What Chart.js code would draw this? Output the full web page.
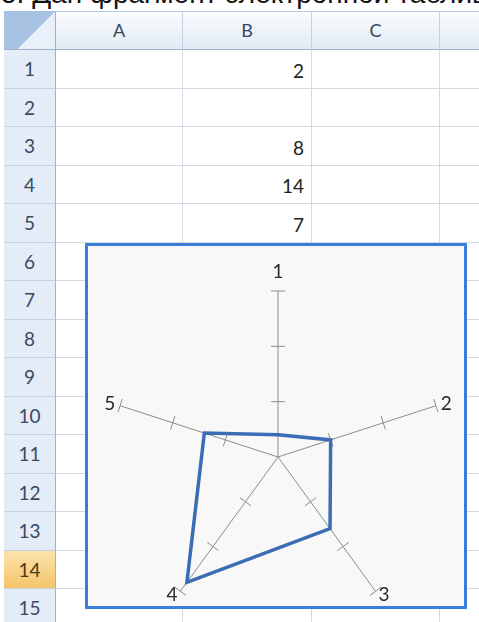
<!DOCTYPE html>
<html>
<head>
<meta charset="utf-8">
<script src="https://cdn.jsdelivr.net/npm/chart.js@4"></script>
<style>
body { margin: 0; width: 479px; height: 622px; overflow: hidden; background: #fff; position: relative; font-family: Lato, "Noto Sans", sans-serif; }
#title { position: absolute; left: 1px; top: -20px; font: 28px/1 "Liberation Sans", Arial, sans-serif; white-space: nowrap; color: #111; }
.c { position: absolute; box-sizing: border-box; }
.colhd { background: linear-gradient(#fafcfe, #e2eaf5); border-top: 1px solid #b7c9df; border-right: 1px solid #c3d1e3; border-bottom: 1px solid #9db3cc; color: #34465f; font-size: 18px; text-align: center; line-height: 37px; }
.rowhd { background: #e4ecf7; border-right: 1px solid #9db3cc; border-bottom: 1px solid #c3d1e3; color: #3a4a62; font-size: 19px; text-align: center; }
.rowhd.active { background: linear-gradient(#fbe3ad, #f5c46a); color: #4a3a1a; }
.cell { border-right: 1px solid #d3dae6; border-bottom: 1px solid #d3dae6; text-align: right; padding-right: 7px; font-size: 19px; color: #222; }
#corner { left: 4px; top: 11px; width: 52px; height: 39px; background: linear-gradient(135deg, #a8c2e4 58%, #e9f0f9 58%); border-right: 1px solid #9db3cc; border-bottom: 1px solid #9db3cc; }
#box { position: absolute; left: 85px; top: 243px; width: 382px; height: 366px; box-sizing: border-box; border: 3px solid #3b7ed8; background: #f8f8f8; overflow: hidden; }
#box canvas { position: absolute; left: 0; top: 0; }
</style>
</head>
<body>
<div id="title">5. Дан фрагмент электронной таблицы</div>
<div id="grid"></div>
<div id="box"><canvas id="radar" width="376" height="400"></canvas></div>
<script>
// spreadsheet contents
const columns = ['A', 'B', 'C', ''];
const cellValues = [2, null, 8, 14, 7];   // column B, rows 1..5
const rowCount = 15;
const activeRow = 14;

// chart data
const axisLabels = ['1', '2', '3', '4', '5'];
const seriesValues = [2, 5, 8, 14, 7];

const colEdges = [56, 183, 312, 440, 480];
const rowTop = r => 50 + (r - 1) * 38.5;

const grid = document.getElementById('grid');
function addCell(cls, x, y, w, h, text, extra) {
    const d = document.createElement('div');
    d.className = 'c ' + cls;
    d.style.left = x + 'px';
    d.style.top = y + 'px';
    d.style.width = w + 'px';
    d.style.height = h + 'px';
    if (extra) d.style.lineHeight = extra;
    if (text !== null && text !== undefined) d.textContent = text;
    grid.appendChild(d);
}
const corner = document.createElement('div');
corner.className = 'c';
corner.id = 'corner';
grid.appendChild(corner);

columns.forEach((name, i) => {
    addCell('colhd', colEdges[i], 11, colEdges[i + 1] - colEdges[i], 39, name);
});
for (let r = 1; r <= rowCount; r++) {
    const y = Math.round(rowTop(r));
    const h = Math.round(rowTop(r + 1)) - y;
    addCell('rowhd' + (r === activeRow ? ' active' : ''), 4, y, 52, h, r, (h - 1) + 'px');
    columns.forEach((name, i) => {
        const v = (i === 1 && r <= cellValues.length) ? cellValues[r - 1] : null;
        addCell('cell', colEdges[i], y, colEdges[i + 1] - colEdges[i], h, v, (h + 2) + 'px');
    });
}

// tick marks across each spoke, and the spoke labels
const spokeDecor = {
    id: 'spokeDecor',
    beforeDatasetsDraw(chart) {
        const r = chart.scales.r;
        const ctx = chart.ctx;
        ctx.save();
        ctx.strokeStyle = '#8c8c8c';
        ctx.lineWidth = 1;
        ctx.fillStyle = '#2a2a2a';
        ctx.font = '19px Lato, "Noto Sans", sans-serif';
        axisLabels.forEach((lab, i) => {
            const end = r.getPointPositionForValue(i, r.max);
            const dx = (end.x - r.xCenter) / r.drawingArea;
            const dy = (end.y - r.yCenter) / r.drawingArea;
            r.ticks.forEach(t => {
                if (t.value <= 0) return;
                const p = r.getPointPositionForValue(i, t.value);
                ctx.beginPath();
                ctx.moveTo(p.x - dy * 7, p.y + dx * 7);
                ctx.lineTo(p.x + dy * 7, p.y - dx * 7);
                ctx.stroke();
            });
            const top = Math.abs(dx) < 0.01;
            const q = r.getPointPosition(i, r.drawingArea + (top ? 19 : 5));
            ctx.textAlign = top ? 'center' : (dx > 0 ? 'left' : 'right');
            ctx.textBaseline = 'middle';
            ctx.fillText(lab, q.x, q.y);
        });
        ctx.restore();
    }
};

new Chart(document.getElementById('radar'), {
    type: 'radar',
    data: {
        labels: axisLabels,
        datasets: [{
            data: seriesValues,
            borderColor: '#3a6db4',
            borderWidth: 3.5,
            backgroundColor: 'rgba(0,0,0,0)',
            fill: false,
            pointRadius: 0,
            tension: 0
        }]
    },
    options: {
        responsive: false,
        animation: false,
        layout: { padding: { left: 24, top: 45, right: 20, bottom: 23 } },
        plugins: { legend: { display: false }, tooltip: { enabled: false } },
        scales: {
            r: {
                min: 0,
                max: 15,
                ticks: { stepSize: 5, display: false },
                grid: { display: false },
                angleLines: { color: '#8c8c8c', lineWidth: 1 },
                pointLabels: { display: false }
            }
        }
    },
    plugins: [spokeDecor]
});
</script>
</body>
</html>
